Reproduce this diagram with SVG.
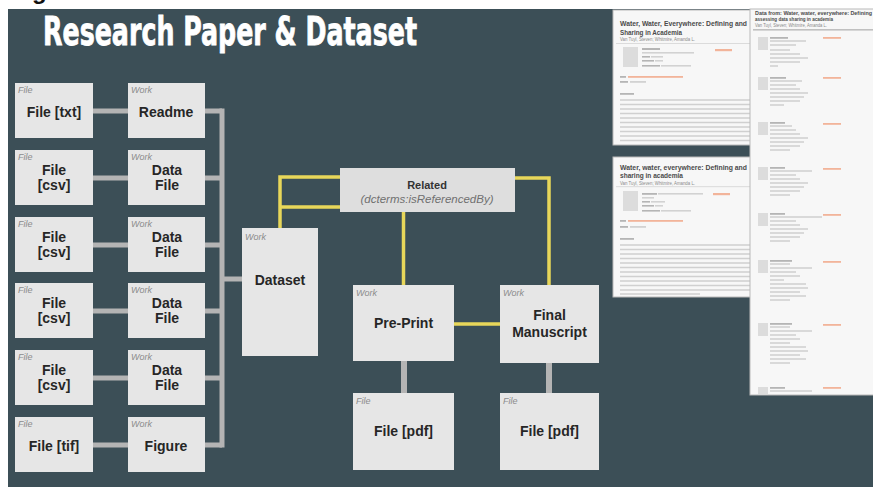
<svg xmlns="http://www.w3.org/2000/svg" width="873" height="487" viewBox="0 0 873 487">
<style>
.box{fill:#e6e6e6}
.t{font-family:"Liberation Sans",Arial,sans-serif;font-weight:bold;font-size:14px;fill:#262626;text-anchor:middle}
.lbl{font-family:"Liberation Sans",Arial,sans-serif;font-style:italic;font-size:9px;fill:#8c8c8c}
.gray{stroke:#b4b4b4;stroke-width:5;fill:none}
.yel{stroke:#e8d75a;stroke-width:3.5;fill:none}
.doc{fill:#f7f7f7;stroke:#b9b9b9;stroke-width:1}
.dt{font-family:"Liberation Sans",Arial,sans-serif;font-weight:bold;fill:#4a4a4a}
.da{font-family:"Liberation Sans",Arial,sans-serif;fill:#8a8a8a}
.g1{fill:#d2d2d2}
.g2{fill:#b5b5b5}
.or{fill:#f2b49a}
.ic{fill:#dcdcdc}
</style>
<rect x="0" y="0" width="873" height="487" fill="#ffffff"/>
<text x="32" y="-1" font-family="Liberation Sans,Arial,sans-serif" font-weight="bold" font-size="24" fill="#111">g</text>
<rect x="8" y="9" width="865" height="478" fill="#3c4f57"/>
<text x="43" y="45" font-family="'Liberation Sans Narrow','DejaVu Sans Condensed','Liberation Sans',sans-serif" font-weight="bold" font-size="39" fill="#ffffff" stroke="#ffffff" stroke-width="0.8" textLength="374" lengthAdjust="spacingAndGlyphs">Research Paper &amp; Dataset</text>

<g id="connectors">
  <path class="gray" d="M93 111H128M93 178H128M93 245H128M93 311H128M93 378H128M93 445H128"/>
  <path class="gray" d="M205 111H222M205 178H222M205 245H222M205 311H222M205 378H222M205 445H222"/>
  <path class="gray" d="M222 108.5V447.5M222 279H242"/>
  <path class="gray" d="M404 361V393M549 363V393" style="stroke-width:6"/>
  <path class="yel" d="M280 228V177H340M280 207H340"/>
  <path class="yel" d="M403.5 212V285"/>
  <path class="yel" d="M515 178H549V285"/>
  <path class="yel" d="M454 324H500"/>
</g>

<g id="file-txt"><rect class="box" x="15" y="83" width="78" height="55"/><text class="lbl" x="18" y="93">File</text><text class="t" x="54" y="117">File [txt]</text></g>
<g id="work-readme"><rect class="box" x="128" y="83" width="77" height="55"/><text class="lbl" x="131" y="93">Work</text><text class="t" x="166" y="117">Readme</text></g>

<g id="file-csv-1"><rect class="box" x="15" y="150" width="78" height="55"/><text class="lbl" x="18" y="160">File</text><text class="t" x="54" y="175">File</text><text class="t" x="54" y="190">[csv]</text></g>
<g id="work-data-1"><rect class="box" x="128" y="150" width="77" height="55"/><text class="lbl" x="131" y="160">Work</text><text class="t" x="167" y="175">Data</text><text class="t" x="167" y="190">File</text></g>

<g id="file-csv-2"><rect class="box" x="15" y="217" width="78" height="55"/><text class="lbl" x="18" y="227">File</text><text class="t" x="54" y="242">File</text><text class="t" x="54" y="257">[csv]</text></g>
<g id="work-data-2"><rect class="box" x="128" y="217" width="77" height="55"/><text class="lbl" x="131" y="227">Work</text><text class="t" x="167" y="242">Data</text><text class="t" x="167" y="257">File</text></g>

<g id="file-csv-3"><rect class="box" x="15" y="283" width="78" height="55"/><text class="lbl" x="18" y="293">File</text><text class="t" x="54" y="308">File</text><text class="t" x="54" y="323">[csv]</text></g>
<g id="work-data-3"><rect class="box" x="128" y="283" width="77" height="55"/><text class="lbl" x="131" y="293">Work</text><text class="t" x="167" y="308">Data</text><text class="t" x="167" y="323">File</text></g>

<g id="file-csv-4"><rect class="box" x="15" y="350" width="78" height="55"/><text class="lbl" x="18" y="360">File</text><text class="t" x="54" y="375">File</text><text class="t" x="54" y="390">[csv]</text></g>
<g id="work-data-4"><rect class="box" x="128" y="350" width="77" height="55"/><text class="lbl" x="131" y="360">Work</text><text class="t" x="167" y="375">Data</text><text class="t" x="167" y="390">File</text></g>

<g id="file-tif"><rect class="box" x="15" y="417" width="78" height="55"/><text class="lbl" x="18" y="427">File</text><text class="t" x="54" y="451">File [tif]</text></g>
<g id="work-figure"><rect class="box" x="128" y="417" width="77" height="55"/><text class="lbl" x="131" y="427">Work</text><text class="t" x="166" y="451">Figure</text></g>

<g id="dataset"><rect class="box" x="242" y="228" width="76" height="128"/><text class="lbl" x="245" y="240">Work</text><text class="t" x="280" y="285">Dataset</text></g>

<g id="related"><rect x="340" y="168" width="175" height="44" fill="#dedede"/><text class="t" x="427" y="189" style="font-size:11px;fill:#333">Related</text><text x="427" y="203" font-family="Liberation Sans,Arial,sans-serif" font-style="italic" font-size="11.5" fill="#707070" text-anchor="middle">(dcterms:isReferencedBy)</text></g>

<g id="pre-print"><rect class="box" x="353" y="285" width="101" height="76"/><text class="lbl" x="356" y="296">Work</text><text class="t" x="403.5" y="328">Pre-Print</text></g>
<g id="final-manuscript"><rect class="box" x="500" y="285" width="99" height="78"/><text class="lbl" x="503" y="296">Work</text><text class="t" x="549.5" y="320">Final</text><text class="t" x="549.5" y="337">Manuscript</text></g>

<g id="file-pdf-1"><rect class="box" x="353" y="393" width="101" height="77"/><text class="lbl" x="356" y="404">File</text><text class="t" x="403.5" y="436">File [pdf]</text></g>
<g id="file-pdf-2"><rect class="box" x="500" y="393" width="99" height="77"/><text class="lbl" x="503" y="404">File</text><text class="t" x="549.5" y="436">File [pdf]</text></g>

<g id="doc-1">
  <rect class="doc" x="613" y="10" width="150" height="135"/>
  <text class="dt" x="620" y="26" font-size="7" textLength="127" lengthAdjust="spacingAndGlyphs">Water, Water, Everywhere: Defining and</text>
  <text class="dt" x="620" y="35" font-size="7" textLength="62" lengthAdjust="spacingAndGlyphs">Sharing in Academia</text>
  <text class="da" x="620" y="41" font-size="4.5" textLength="75" lengthAdjust="spacingAndGlyphs">Van Tuyl, Steven; Whitmire, Amanda L.</text>
  <rect x="616" y="43" width="140" height="0.6" fill="#c8c8c8"/>
  <rect class="ic" x="623" y="47" width="15" height="20"/>
  <rect class="g2" x="642" y="48" width="18" height="2"/><rect class="g1" x="642" y="52" width="52" height="1.6"/>
  <rect class="g2" x="642" y="56" width="8" height="1.6"/><rect class="g1" x="651" y="56" width="12" height="1.6"/>
  <rect class="g2" x="642" y="60" width="12" height="1.6"/><rect class="g1" x="655" y="60" width="8" height="1.6"/>
  <rect class="g2" x="642" y="65" width="18" height="1.6"/><rect class="g1" x="661" y="65" width="30" height="1.6"/>
  <rect class="or" x="715" y="49" width="17" height="2.2"/>
  <rect class="g2" x="620" y="76" width="6" height="1.8"/><rect class="or" x="628" y="76" width="55" height="1.8"/>
  <rect class="g2" x="620" y="81" width="8" height="1.8"/><rect class="g1" x="630" y="81" width="16" height="1.8"/>
  <rect class="g2" x="620" y="93" width="14" height="1.8"/>
  <path d="M620 100H757M620 104.5H757M620 109H757M620 113.5H757M620 118H757M620 122.5H757M620 127H757M620 131.5H757M620 136H757M620 140.5H757" stroke="#d0d0d0" stroke-width="1.6"/>
</g>

<g id="doc-2">
  <rect class="doc" x="613" y="157" width="150" height="140"/>
  <text class="dt" x="620" y="170" font-size="7" textLength="127" lengthAdjust="spacingAndGlyphs">Water, water, everywhere: Defining and</text>
  <text class="dt" x="620" y="178" font-size="7" textLength="63" lengthAdjust="spacingAndGlyphs">sharing in academia</text>
  <text class="da" x="620" y="184.5" font-size="4.5" textLength="75" lengthAdjust="spacingAndGlyphs">Van Tuyl, Steven; Whitmire, Amanda L.</text>
  <rect x="616" y="186.5" width="140" height="0.6" fill="#c8c8c8"/>
  <rect class="ic" x="623" y="191" width="15" height="20"/>
  <rect class="g2" x="642" y="193" width="15" height="1.8"/><rect class="g1" x="658" y="193" width="45" height="1.6"/>
  <rect class="g1" x="642" y="197" width="12" height="1.6"/>
  <rect class="g2" x="642" y="201" width="8" height="1.6"/><rect class="g1" x="651" y="201" width="14" height="1.6"/>
  <rect class="g2" x="642" y="205" width="12" height="1.6"/><rect class="g1" x="655" y="205" width="8" height="1.6"/>
  <rect class="g2" x="642" y="210" width="18" height="1.6"/><rect class="g1" x="661" y="210" width="30" height="1.6"/>
  <rect class="or" x="713" y="193" width="17" height="2.2"/>
  <rect class="g2" x="620" y="220" width="6" height="1.8"/><rect class="or" x="628" y="220" width="55" height="1.8"/>
  <rect class="g2" x="620" y="226" width="8" height="1.8"/><rect class="g1" x="630" y="226" width="16" height="1.8"/>
  <rect class="g2" x="620" y="238" width="14" height="1.8"/>
  <path d="M620 245H757M620 249.5H757M620 254H757M620 258.5H757M620 263H757M620 267.5H757M620 272H757M620 276.5H757M620 281H757M620 285.5H757M620 290H757M620 294H700" stroke="#d0d0d0" stroke-width="1.6"/>
</g>

<g id="doc-3">
  <rect class="doc" x="750" y="9" width="124" height="386"/>
  <text class="dt" x="755" y="14.5" font-size="5.5" textLength="117" lengthAdjust="spacingAndGlyphs">Data from: Water, water, everywhere: Defining</text>
  <text class="dt" x="755" y="20.5" font-size="5.5" textLength="78" lengthAdjust="spacingAndGlyphs">assessing data sharing in academia</text>
  <text class="da" x="755" y="26.5" font-size="4.5" textLength="72" lengthAdjust="spacingAndGlyphs">Van Tuyl, Steven; Whitmire, Amanda L.</text>
  <rect x="753" y="29.5" width="120" height="0.8" fill="#8a8a8a"/>
  <g id="entries" stroke-width="1.5">
    <rect class="ic" x="758" y="37" width="10" height="13"/><rect class="g2" x="770" y="37" width="18" height="1.8"/><rect class="or" x="823" y="37" width="18" height="1.8"/>
    <path d="M770 41H806M770 45H796M770 50H790M770 54H800M770 58H808M770 62H800M770 66H778" stroke="#cfcfcf"/>
    <rect class="ic" x="758" y="77" width="10" height="13"/><rect class="g2" x="770" y="77" width="16" height="1.8"/><rect class="or" x="823" y="77" width="18" height="1.8"/>
    <path d="M770 81H802M770 85H796M770 89H800M770 93H808M770 97H804M770 101H800M770 105H784" stroke="#cfcfcf"/>
    <rect class="ic" x="758" y="122" width="10" height="13"/><rect class="g2" x="770" y="122" width="15" height="1.8"/><rect class="or" x="823" y="123" width="18" height="1.8"/>
    <path d="M770 126H792M770 130H796M770 134H800M770 138H808M770 142H804M770 146H800M770 150H790" stroke="#cfcfcf"/>
    <rect class="ic" x="758" y="167" width="10" height="13"/><rect class="g2" x="770" y="167" width="15" height="1.8"/><rect class="or" x="823" y="168" width="18" height="1.8"/>
    <path d="M770 171H812M770 175H796M770 179H800M770 183H808M770 187H804M770 191H800M770 195H790" stroke="#cfcfcf"/>
    <rect class="ic" x="758" y="213" width="10" height="13"/><rect class="g2" x="770" y="213" width="15" height="1.8"/><rect class="or" x="823" y="214" width="18" height="1.8"/>
    <path d="M770 217H822M770 221H796M770 225H800M770 229H808M770 233H804M770 237H800M770 241H790" stroke="#cfcfcf"/>
    <rect class="ic" x="758" y="260" width="10" height="13"/><rect class="g2" x="770" y="260" width="22" height="1.8"/><rect class="or" x="823" y="261" width="18" height="1.8"/>
    <path d="M770 264H790M770 268H812M770 272H796M770 276H800M770 280H784M770 284H806M770 288H808M770 292H800M770 296H806M770 300H790" stroke="#cfcfcf"/>
    <rect class="ic" x="758" y="323" width="10" height="13"/><rect class="g2" x="770" y="323" width="22" height="1.8"/><rect class="or" x="823" y="324" width="18" height="1.8"/>
    <path d="M770 327H790M770 331H812M770 335H796M770 339H800M770 343H790M770 347H806M770 351H808M770 355H800M770 359H806M770 363H790" stroke="#cfcfcf"/>
    <rect class="ic" x="758" y="387" width="10" height="7"/><rect class="g2" x="770" y="387" width="15" height="1.8"/><rect class="or" x="823" y="387" width="18" height="1.8"/>
    <path d="M770 391H812" stroke="#cfcfcf"/>
  </g>
</g>
</svg>
